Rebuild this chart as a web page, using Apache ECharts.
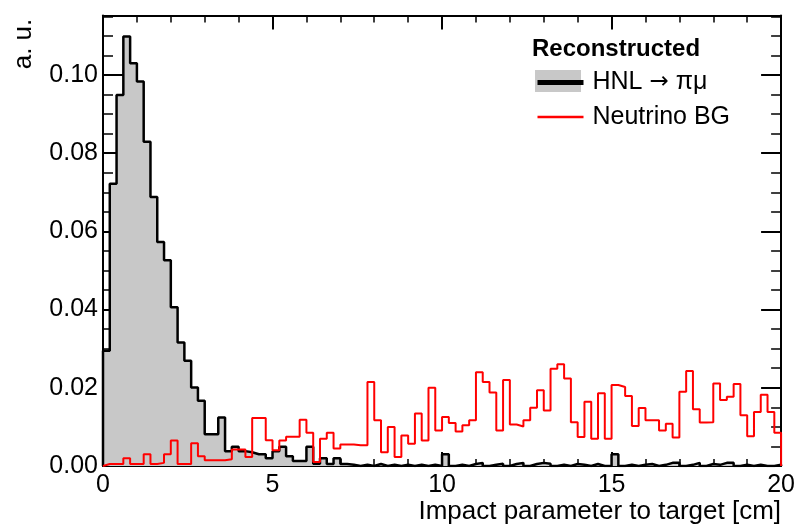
<!DOCTYPE html>
<html>
<head>
<meta charset="utf-8">
<script src="https://cdn.jsdelivr.net/npm/echarts@6/dist/echarts.min.js"></script>
<style>
html,body{margin:0;padding:0;background:#fff;}
#chart{width:798px;height:532px;}
</style>
</head>
<body>
<div id="chart"></div>
<script>
// ---- data ----
const xMin = 0;
const xMax = 20;
const binWidth = 0.2;

// HNL -> pi mu (reconstructed), 100 bins of 0.2 cm
const hnlValues = [
  0.0295, 0.0722, 0.0949, 0.1098, 0.1030, 0.0983, 0.0829, 0.0688, 0.0573, 0.0526,
  0.0406, 0.0316, 0.0269, 0.0201, 0.0167, 0.0081, 0.0081, 0.0124, 0.0038, 0.0049,
  0.0038, 0.0035, 0.0030, 0.0030, 0.0020, 0.0038, 0.0049, 0.0025, 0.0013, 0.0013,
  0.0049, 0.0006, 0.0020, 0.0005, 0.0020, 0.0005, 0.0003, 0.0000, 0.0003, 0.0000,
  0.0005, 0.0000, 0.0003, 0.0000, 0.0003, 0.0000, 0.0003, 0.0000, 0.0003, 0.0000,
  0.0030, 0.0000, 0.0003, 0.0000, 0.0005, 0.0008, 0.0000, 0.0003, 0.0006, 0.0000,
  0.0005, 0.0008, 0.0000, 0.0005, 0.0008, 0.0006, 0.0000, 0.0003, 0.0000, 0.0005,
  0.0003, 0.0000, 0.0005, 0.0000, 0.0000, 0.0030, 0.0000, 0.0003, 0.0000, 0.0003,
  0.0005, 0.0000, 0.0003, 0.0008, 0.0008, 0.0000, 0.0003, 0.0008, 0.0000, 0.0005,
  0.0003, 0.0008, 0.0008, 0.0000, 0.0003, 0.0000, 0.0003, 0.0000, 0.0000, 0.0003
];

// Neutrino background, 100 bins of 0.2 cm
const bgValues = [
  0.0005, 0.0005, 0.0005, 0.0020, 0.0005, 0.0005, 0.0030, 0.0005, 0.0008, 0.0030,
  0.0065, 0.0005, 0.0005, 0.0058, 0.0025, 0.0015, 0.0015, 0.0015, 0.0017, 0.0042,
  0.0042, 0.0023, 0.0123, 0.0123, 0.0066, 0.0040, 0.0065, 0.0075, 0.0075, 0.0118,
  0.0085, 0.0010, 0.0070, 0.0085, 0.0045, 0.0055, 0.0055, 0.0053, 0.0053, 0.0215,
  0.0117, 0.0035, 0.0100, 0.0023, 0.0078, 0.0057, 0.0134, 0.0065, 0.0200, 0.0091,
  0.0125, 0.0110, 0.0088, 0.0104, 0.0117, 0.0240, 0.0215, 0.0188, 0.0091, 0.0220,
  0.0106, 0.0101, 0.0117, 0.0149, 0.0194, 0.0142, 0.0249, 0.0260, 0.0224, 0.0112,
  0.0074, 0.0164, 0.0070, 0.0186, 0.0070, 0.0207, 0.0202, 0.0179, 0.0102, 0.0148,
  0.0117, 0.0117, 0.0091, 0.0108, 0.0073, 0.0190, 0.0243, 0.0145, 0.0111, 0.0112,
  0.0211, 0.0169, 0.0177, 0.0210, 0.0130, 0.0076, 0.0138, 0.0182, 0.0138, 0.0085
];

const yMax = 0.1152;
const yMajor = 0.02;
const yMinor = 0.005;
const xMajor = 5;

const seriesNames = ['HNL \u2192 \u03c0\u03bc', 'Neutrino BG'];
const legendTitle = 'Reconstructed';
const xTitle = 'Impact parameter to target [cm]';
const yTitle = 'a. u.';

// ---- build histogram outlines from bin contents ----
function histPoints(values) {
  const pts = [[xMin, 0]];
  values.forEach((v, i) => {
    const lo = +(xMin + i * binWidth).toFixed(4);
    const hi = +(xMin + (i + 1) * binWidth).toFixed(4);
    pts.push([lo, v], [hi, v]);
  });
  pts.push([xMax, 0]);
  return pts;
}

const FONT = "'Liberation Sans', Arial, Helvetica, sans-serif";
const chart = echarts.init(document.getElementById('chart'), null, {renderer: 'canvas'});

const gridL = 103, gridT = 15.5, gridR = 15, gridB = 66;

function xAxisDef(pos, labels) {
  return {
    type: 'value', position: pos, min: xMin, max: xMax, interval: xMajor,
    gridIndex: 0,
    axisLine: {show: true, onZero: false, lineStyle: {color: '#000', width: 2}},
    axisTick: {show: true, inside: true, length: 14, lineStyle: {color: '#000', width: 2}},
    minorTick: {show: true, splitNumber: 5, length: 7, lineStyle: {color: '#000', width: 1.5}},
    splitLine: {show: false}, minorSplitLine: {show: false},
    axisLabel: {show: labels, margin: 7, color: '#000', fontSize: 25, fontFamily: FONT},
    name: labels ? xTitle : '',
    nameLocation: 'end', nameGap: 0,
    nameTextStyle: {color: '#000', fontSize: 26, fontFamily: FONT, align: 'right', verticalAlign: 'top', padding: [33, 0, 0, 0]}
  };
}
function yAxisDef(pos, interval, tickLen, labels, line) {
  return {
    type: 'value', position: pos, min: 0, max: yMax, interval: interval,
    gridIndex: 0,
    axisLine: {show: line, onZero: false, lineStyle: {color: '#000', width: 2}},
    axisTick: {show: true, inside: true, length: tickLen, lineStyle: {color: '#000', width: labels || line ? 2 : 1.5}},
    splitLine: {show: false},
    axisLabel: {
      show: labels, margin: 5, color: '#000', fontSize: 25, fontFamily: FONT,
      showMaxLabel: false,
      formatter: v => v.toFixed(2)
    }
  };
}

const option = {
  backgroundColor: '#fff',
  animation: false,
  grid: {left: gridL, top: gridT, right: gridR, bottom: gridB, containLabel: false},
  title: {
    text: legendTitle, left: 532, top: 37, padding: 0,
    textStyle: {color: '#000', fontSize: 24, fontWeight: 'bold', fontFamily: FONT}
  },
  legend: {
    orient: 'vertical', left: 535, top: 70, padding: 0,
    itemWidth: 46, itemHeight: 22, itemGap: 9.5,
    formatter: function (name) {
      if (name === seriesNames[0]) return '{t|HNL }{a|\u2192}{t| \u03c0\u03bc}';
      return '{t|' + name + '}';
    },
    textStyle: {
      color: '#000', fontSize: 25, fontFamily: FONT, lineHeight: 22, padding: [0, 0, 0, 4],
      rich: {
        t: {color: '#000', fontSize: 25, fontFamily: FONT, lineHeight: 22},
        a: {color: '#000', fontSize: 23, fontFamily: "'DejaVu Sans', sans-serif", lineHeight: 22}
      }
    },
    data: [
      {name: seriesNames[0], lineStyle: {color: '#000', width: 5}, itemStyle: {opacity: 0}},
      {name: seriesNames[1], lineStyle: {color: '#ff0000', width: 2.5}, itemStyle: {opacity: 0}}
    ]
  },
  graphic: [
    {type: 'rect', z: 1, shape: {x: 535, y: 70, width: 46, height: 22}, style: {fill: '#c8c8c8'}},
    {type: 'text', z: 5, x: 24, y: 44, rotation: Math.PI / 2,
     style: {text: yTitle, fill: '#000', fontSize: 26, fontFamily: FONT, align: 'center', verticalAlign: 'middle'}}
  ],
  xAxis: [xAxisDef('bottom', true), xAxisDef('top', false)],
  yAxis: [
    yAxisDef('left', yMajor, 20, true, true),
    yAxisDef('left', yMinor, 10, false, false),
    yAxisDef('right', yMajor, 20, false, true),
    yAxisDef('right', yMinor, 10, false, false)
  ],
  series: [
    {
      name: seriesNames[0], type: 'line', xAxisIndex: 0, yAxisIndex: 0,
      data: histPoints(hnlValues), symbol: 'none', showSymbol: false,
      lineStyle: {color: '#000', width: 2.5}, itemStyle: {color: '#000'},
      areaStyle: {color: '#c8c8c8', opacity: 1, origin: 'start'},
      z: 2
    },
    {
      name: seriesNames[1], type: 'line', xAxisIndex: 0, yAxisIndex: 0,
      data: histPoints(bgValues), symbol: 'none', showSymbol: false,
      lineStyle: {color: '#ff0000', width: 2}, itemStyle: {color: '#ff0000'},
      z: 3
    }
  ]
};
chart.setOption(option);
</script>
</body>
</html>
